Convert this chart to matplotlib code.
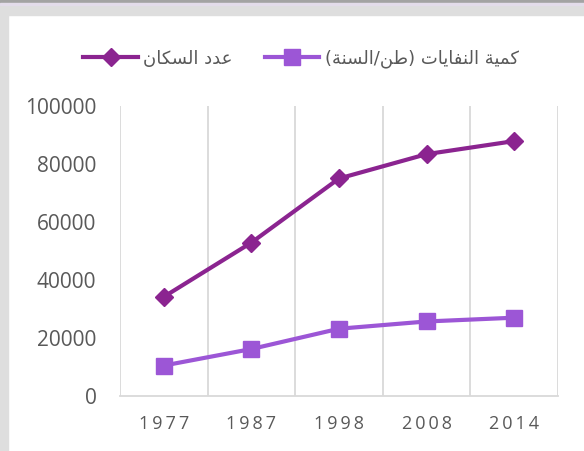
import matplotlib
matplotlib.use("Agg")
import matplotlib.pyplot as plt
from matplotlib.patches import Rectangle
from matplotlib.lines import Line2D

# data
years = ["1977", "1987", "1998", "2008", "2014"]
population = [34200, 52900, 75000, 83400, 87900]
waste = [10500, 16200, 23200, 25700, 27000]
label_population = "عدد السكان"
label_waste = "كمية النفايات (طن/السنة)"

# minimal arabic shaping (matplotlib has no shaping / bidi)
FORMS = {
    'ا': ('\uFE8D', '\uFE8E', None, None),
    'د': ('\uFEA9', '\uFEAA', None, None),
    'ة': ('\uFE93', '\uFE94', None, None),
    'ع': ('\uFEC9', '\uFECA', '\uFECB', '\uFECC'),
    'ل': ('\uFEDD', '\uFEDE', '\uFEDF', '\uFEE0'),
    'س': ('\uFEB1', '\uFEB2', '\uFEB3', '\uFEB4'),
    'ك': ('\uFED9', '\uFEDA', '\uFEDB', '\uFEDC'),
    'ن': ('\uFEE5', '\uFEE6', '\uFEE7', '\uFEE8'),
    'م': ('\uFEE1', '\uFEE2', '\uFEE3', '\uFEE4'),
    'ي': ('\uFEF1', '\uFEF2', '\uFEF3', '\uFEF4'),
    'ف': ('\uFED1', '\uFED2', '\uFED3', '\uFED4'),
    'ت': ('\uFE95', '\uFE96', '\uFE97', '\uFE98'),
    'ط': ('\uFEC1', '\uFEC2', '\uFEC3', '\uFEC4'),
}
MIRROR = {'(': ')', ')': '('}


def dual(c):
    return c in FORMS and FORMS[c][2] is not None


def shape(s):
    out = []
    for i, c in enumerate(s):
        if c not in FORMS:
            out.append(MIRROR.get(c, c))
            continue
        prev = i > 0 and dual(s[i - 1])
        nxt = dual(c) and i + 1 < len(s) and s[i + 1] in FORMS
        iso, fin, ini, med = FORMS[c]
        if prev and nxt:
            out.append(med)
        elif prev:
            out.append(fin)
        elif nxt:
            out.append(ini)
        else:
            out.append(iso)
    return "".join(reversed(out))


c_pop = "#8B2490"
c_waste = "#9C56D6"
grey_txt = "#595959"

fig = plt.figure(figsize=(5.84, 4.51), dpi=100)
fig.patch.set_facecolor("white")

# window frame bits at top / left
W, H = 584.0, 451.0
fig.add_artist(Rectangle((0, 1 - 15 / H), 1, 15 / H, transform=fig.transFigure,
                         color="#dedede", zorder=0))
fig.add_artist(Rectangle((0, 1 - 3 / H), 1, 3 / H, transform=fig.transFigure,
                         color="#a3a3a3", zorder=0))
fig.add_artist(Rectangle((0, 1 - 5 / H), 1, 2 / H, transform=fig.transFigure,
                         color="#e3dcea", zorder=0))
fig.add_artist(Rectangle((0, 0), 8 / W, 1 - 15 / H, transform=fig.transFigure,
                         color="#dedede", zorder=0))

ax = fig.add_axes([120 / W, 55 / H, 438 / W, 290 / H])
x = list(range(len(years)))

ax.plot(x, population, color=c_pop, lw=3, marker="D", ms=9, zorder=3)
ax.plot(x, waste, color=c_waste, lw=3, marker="s", ms=11, zorder=3)

ax.set_xlim(-0.5, len(years) - 0.5)
ax.set_ylim(0, 100000)
ax.set_yticks(range(0, 100001, 20000))
ax.set_xticks(x)
ax.set_xticklabels(["\u2009".join(y) for y in years])
ax.set_xticks([i - 0.5 for i in range(len(years) + 1)], minor=True)
ax.grid(True, which="minor", axis="x", color="#d9d9d9", lw=1.3)
ax.tick_params(which="both", length=0)
ax.tick_params(axis="y", labelsize=15, labelcolor=grey_txt, pad=17)
ax.tick_params(axis="x", labelsize=13, labelcolor=grey_txt, pad=14)
for t in ax.get_xticklabels() + ax.get_yticklabels():
    t.set_family(["Open Sans", "DejaVu Sans"])
for s in ["top", "left", "right"]:
    ax.spines[s].set_visible(False)
ax.spines["bottom"].set_color("#d9d9d9")
ax.spines["bottom"].set_linewidth(1.3)

handles = [
    Line2D([], [], color=c_pop, lw=3, marker="D", ms=9),
    Line2D([], [], color=c_waste, lw=3, marker="s", ms=11),
]
fig.legend(handles, [shape(label_population), shape(label_waste)],
           loc="center", bbox_to_anchor=(301 / W, 1 - 59 / H), ncol=2,
           frameon=False, handlelength=3.0, columnspacing=1.8,
           handletextpad=0.3, labelcolor=grey_txt,
           prop={"family": ["DejaVu Sans"], "size": 13})

fig.savefig("out.png", dpi=100, facecolor="white")
